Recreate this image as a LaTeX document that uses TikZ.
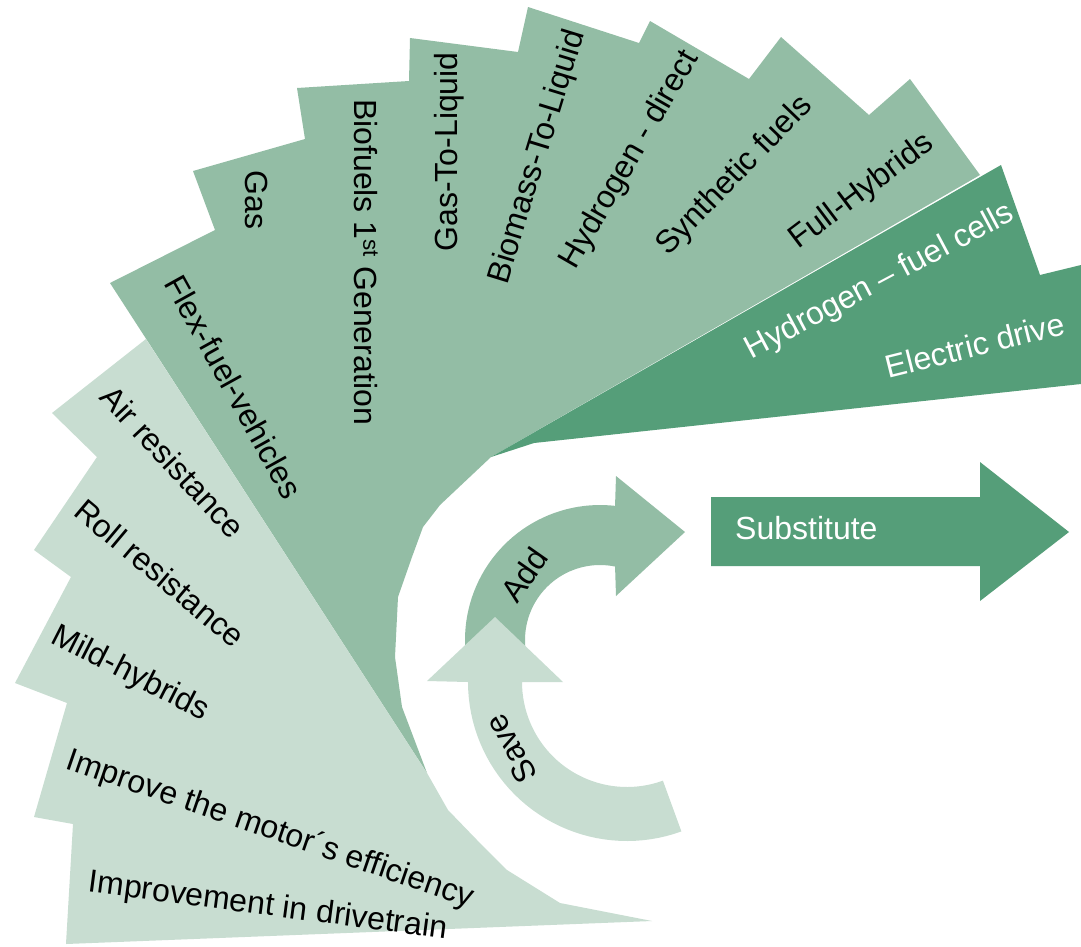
\documentclass[tikz,border=0pt]{standalone}
\usepackage{fontspec}
\setmainfont{Liberation Sans}
\definecolor{lightg}{HTML}{C8DDD1}
\definecolor{midg}{HTML}{93BDA5}
\definecolor{darkg}{HTML}{559E79}
\begin{document}
\begin{tikzpicture}[x=1pt,y=-1pt,
  lbl/.style={inner sep=0pt, font=\fontsize{32}{38}\selectfont},
  wlbl/.style={lbl, text=white}]
\useasboundingbox[fill=white] (0,0) rectangle (1081,946);

% medium fan
\fill[midg] (110,283) -- (215,230) -- (193,171) -- (305,139) -- (297,88)
  -- (409,81) -- (410,38) -- (518,52) -- (528,7) -- (639,43) -- (650,21)
  -- (749,79) -- (781,37) -- (869,115) -- (910,79) -- (980,175) -- (491,457)
  -- (440,505) -- (423,527) -- (412,557) -- (398,597) -- (395,657)
  -- (402,707) -- (427,773) -- cycle;
% dark fan
\fill[darkg] (491,457) -- (1001,165) -- (1040,275) -- (1081,265)
  -- (1081,384) -- (534,443) -- cycle;
% light fan
\fill[lightg] (146,339) -- (52,413) -- (97,457) -- (34,550) -- (71,577)
  -- (15,683) -- (67,703) -- (34,817) -- (73,824) -- (66,944) -- (652,921)
  -- (560,903) -- (507,870) -- (477,840) -- (448,810) -- (427,773) -- cycle;

% Add arrow
\fill[midg] plot[domain=175:276.4, samples=40, variable=\t] ({600+135*cos(\t)},{640+135*sin(\t)})
  -- (616,476) -- (685,532) -- (616,596) -- (615,565)
  -- plot[domain=281.5:175, samples=40, variable=\t] ({600+75*cos(\t)},{640+75*sin(\t)}) -- cycle;
% Save arrow
\fill[lightg] (427,681) -- (495,617) -- (563,682) -- (522,682)
  -- plot[domain=180:70, samples=40, variable=\t] ({627+105*cos(\t)},{682+105*sin(\t)})
  -- plot[domain=70:180, samples=40, variable=\t] ({627+159*cos(\t)},{682+159*sin(\t)})
  -- cycle;
% Substitute arrow
\fill[darkg] (711,497) -- (980,497) -- (980,462) -- (1069,532) -- (980,601)
  -- (980,566) -- (711,566) -- cycle;

% labels
\node[lbl, rotate=-7.5] (drv) at (268,907) {Improvement in drivetrain};
\node[lbl, rotate=-19] (mot) at (270,830) {Improve the motor´s efficiency};
\node[lbl, rotate=-27] (mild) at (130,674) {Mild-hybrids};
\node[lbl, rotate=-40] (roll) at (160,573) {Roll resistance};
\node[lbl, rotate=-47] (air) at (173,462) {Air resistance};
\node[lbl, rotate=-61] (flex) at (234,387) {Flex-fuel-vehicles};
\node[lbl, rotate=-90] (gas) at (257,200) {Gas};
\node[lbl, rotate=-90] (bio) at (366,262) {Biofuels 1\textsuperscript{st} Generation};
\node[lbl, rotate=90] (gtl) at (449,152) {Gas-To-Liquid};
\node[lbl, rotate=73] (btl) at (538,157) {Biomass-To-Liquid};
\node[lbl, rotate=60] (hyd) at (630,160) {Hydrogen - direct};
\node[lbl, rotate=46] (syn) at (735,176) {Synthetic fuels};
\node[lbl, rotate=37] (full) at (862,192) {Full-Hybrids};
\node[wlbl, rotate=28] (fc) at (880,282) {Hydrogen – fuel cells};
\node[wlbl, rotate=14] (ele) at (975,345) {Electric drive};
\node[wlbl, anchor=west] (sub) at (735,528) {Substitute};
\node[lbl, rotate=55] (add) at (524,575) {Add};
\node[lbl, rotate=119] (save) at (511,749) {Save};
\end{tikzpicture}
\end{document}
